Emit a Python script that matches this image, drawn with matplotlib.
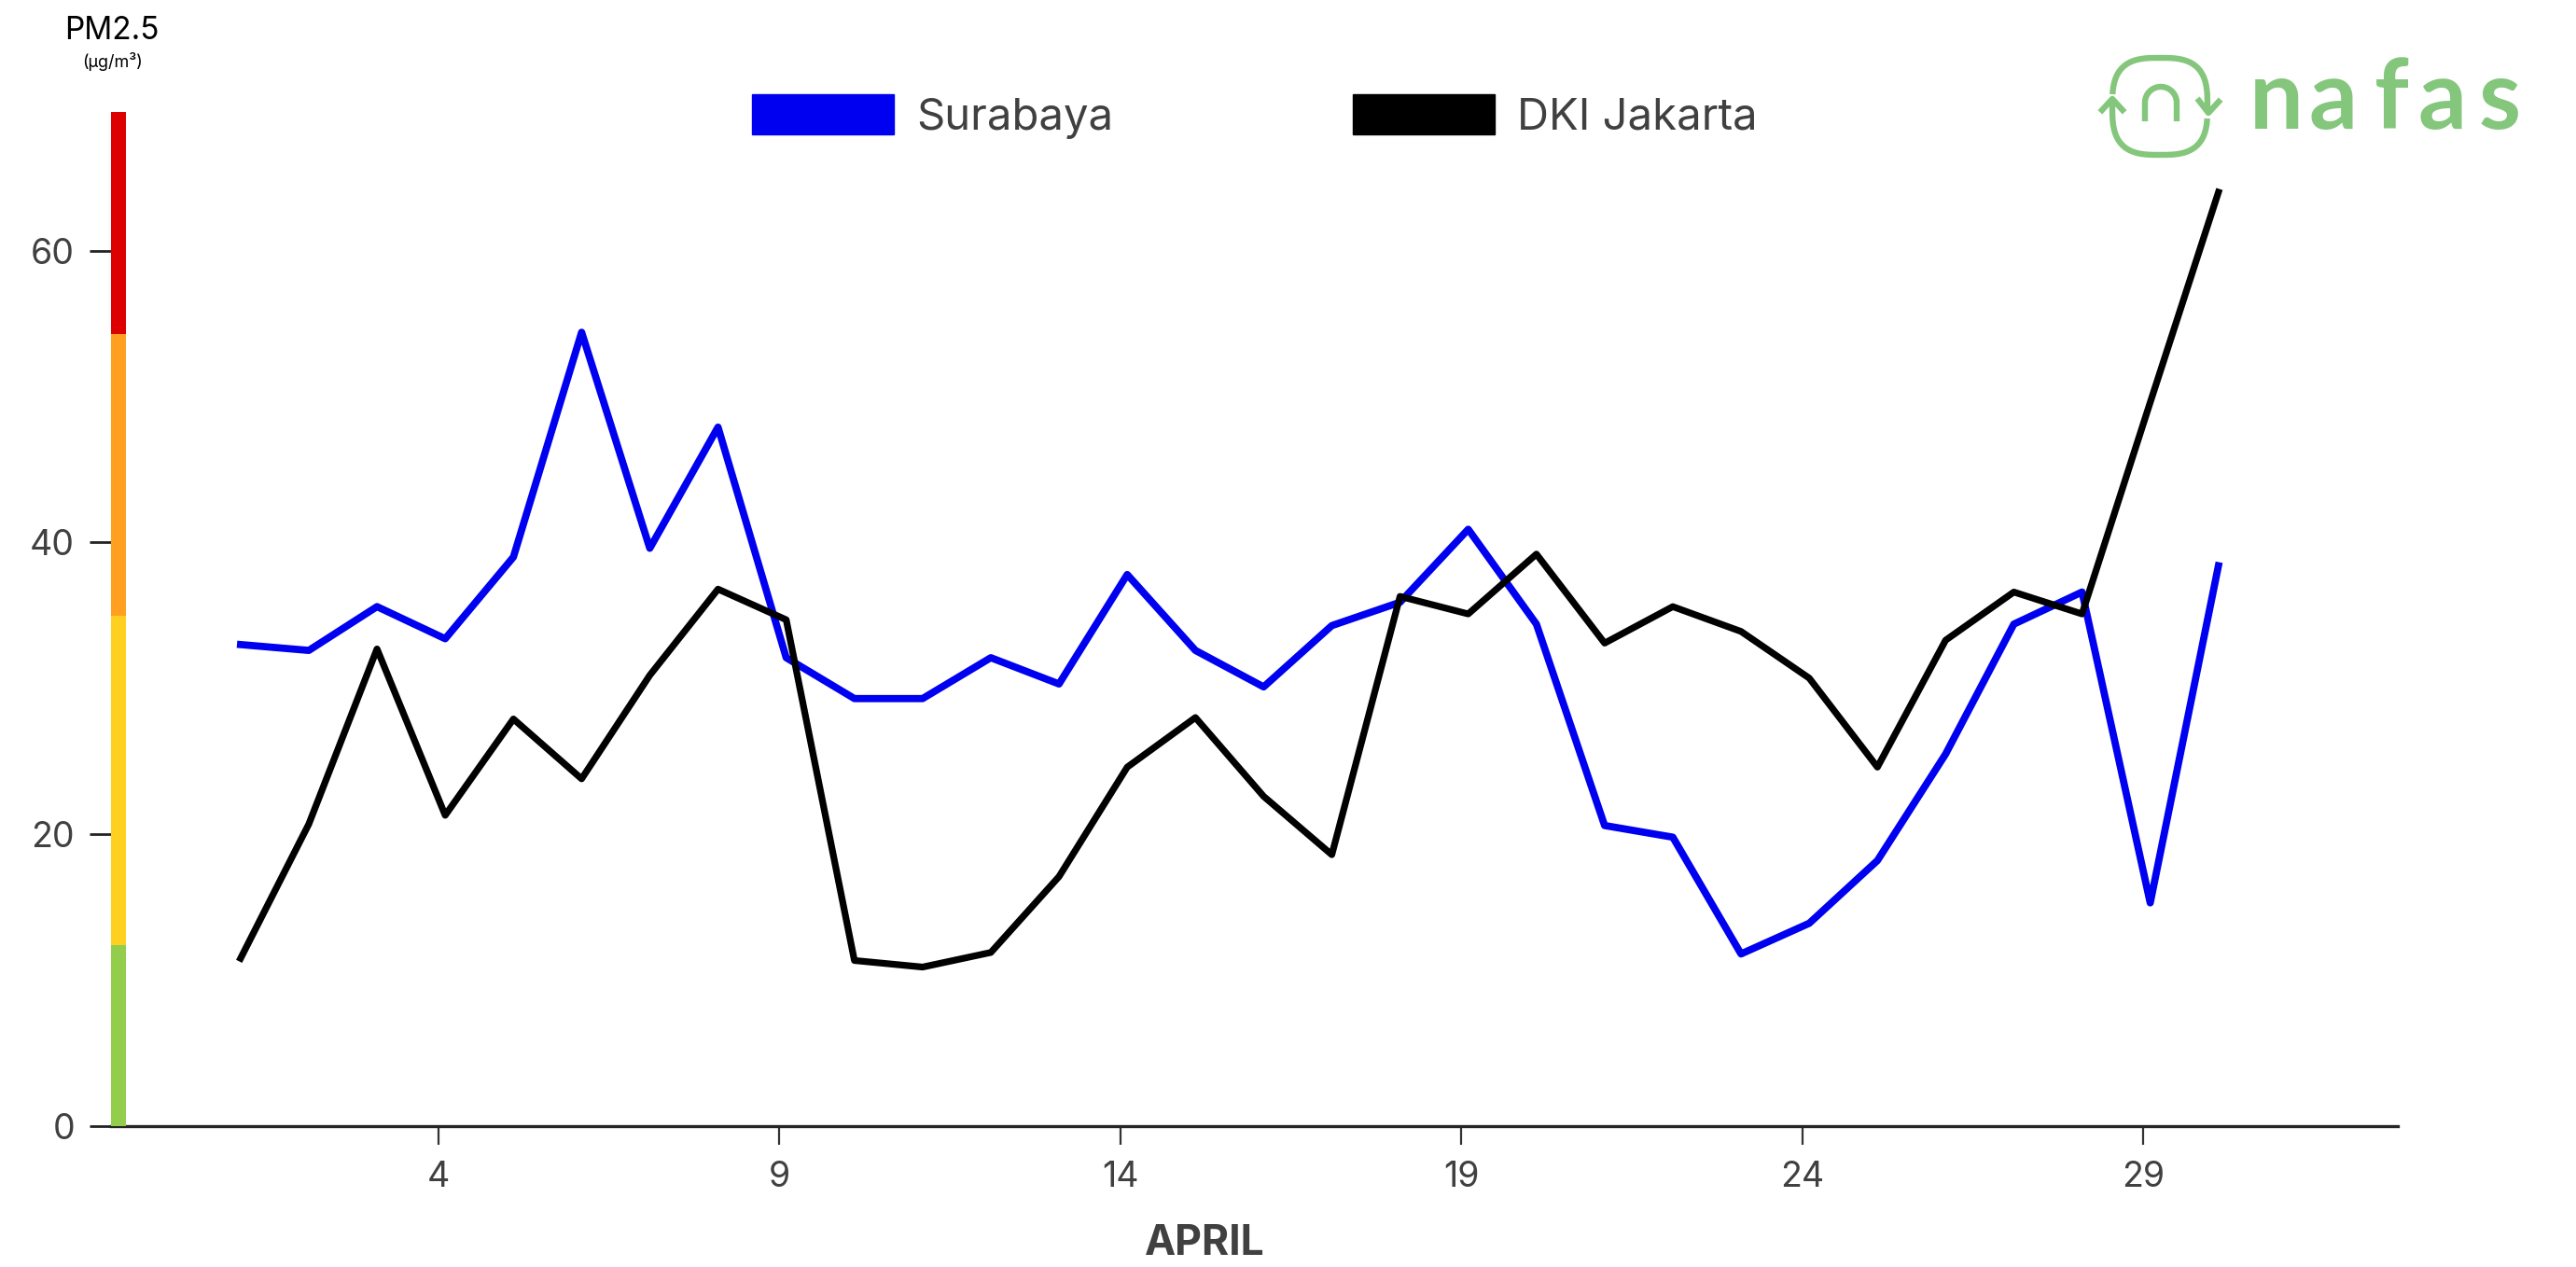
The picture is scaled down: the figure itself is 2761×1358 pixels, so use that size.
import numpy as np
import matplotlib.pyplot as plt
from matplotlib.patches import Rectangle, Patch
from matplotlib.transforms import blended_transform_factory

plt.rcParams['font.family'] = ['Inter', 'DejaVu Sans']

# data (April, daily PM2.5)
days = np.arange(1, 31)
surabaya = [33.0, 32.6, 35.6, 33.4, 39.0, 54.4, 39.6, 47.9, 32.1, 29.3,
            29.3, 32.1, 30.3, 37.8, 32.6, 30.1, 34.3, 35.9, 40.9, 34.4,
            20.6, 19.8, 11.8, 13.9, 18.2, 25.5, 34.4, 36.6, 15.3, 38.4]
jakarta = [11.5, 20.7, 32.7, 21.3, 27.9, 23.8, 30.9, 36.8, 34.7, 11.35,
           10.9, 11.9, 17.1, 24.6, 28.0, 22.6, 18.6, 36.3, 35.1, 39.2,
           33.1, 35.6, 33.9, 30.7, 24.6, 33.3, 36.6, 35.1, 49.6, 64.0]
tick_days = [4, 9, 14, 19, 24, 29]
yticks = [0, 20, 40, 60]
band_edges = [0, 12.4, 35.0, 54.3, 69.5]
band_colors = ['#92cd4c', '#ffd020', '#ffa020', '#dd0000']

blue = '#0000f0'
grey = '#404040'
green = '#84c77c'

W, H = 2761, 1358
fig = plt.figure(figsize=(W / 100, H / 100), dpi=100)
ax = fig.add_axes([119 / W, 1 - 1207 / H, (2570 - 119) / W, (1207 - 120) / H])

ax.plot(days, surabaya, color=blue, lw=5.6, zorder=3)
ax.plot(days, jakarta, color='black', lw=5.2, zorder=3)

ax.set_xlim(-0.9, 32.63)
ax.set_ylim(0, 69.5)

for s in ['top', 'right', 'left']:
    ax.spines[s].set_visible(False)
ax.spines['bottom'].set_linewidth(2.4)
ax.spines['bottom'].set_color('#262626')

# colour scale acting as the y axis
trans = blended_transform_factory(ax.transAxes, ax.transData)
for lo, hi, c in zip(band_edges[:-1], band_edges[1:], band_colors):
    ax.add_patch(Rectangle((0, lo), 16 / 2451, hi - lo, transform=trans,
                           color=c, lw=0, clip_on=False, zorder=4))

ax.set_yticks(yticks)
ax.tick_params(axis='y', length=16.5, width=2, color='#222222', pad=11.5,
               labelsize=27, labelcolor=grey)
ax.set_xticks([d - 0.1 for d in tick_days], labels=[str(d) for d in tick_days])
ax.tick_params(axis='x', length=14.4, width=1.6, color='#333333', pad=12,
               labelsize=27, labelcolor=grey)

fig.text(1291 / W, 1 - 1333 / H, 'APRIL', fontsize=32, fontweight='bold',
         color=grey, ha='center', va='center')
fig.text(120 / W, 1 - 32.5 / H, 'PM2.5', fontsize=24, color='black',
         ha='center', va='center')
fig.text(120 / W, 1 - 66 / H, '(µg/m³)', fontsize=13, color='black',
         ha='center', va='center')

handles = [Patch(color=blue, label='Surabaya'),
           Patch(color='black', label='DKI Jakarta')]
fig.legend(handles=handles, loc='center', bbox_to_anchor=(1345 / W, 1 - 125 / H),
           ncol=2, frameon=False, fontsize=34, handlelength=3.22,
           handleheight=1.03, handletextpad=0.5, columnspacing=5.45,
           labelcolor=grey)

# nafas logo
lax = fig.add_axes([2240 / W, 1 - 180 / H, 520 / W, 140 / H])
lax.set_xlim(2240, 2760)
lax.set_ylim(180, 40)
lax.axis('off')


def squircle(t0, t1):
    t = np.linspace(t0, t1, 200)
    c, s = np.cos(t), np.sin(t)
    x = 2315 + 51 * np.sign(c) * np.abs(c) ** (2 / 3)
    y = 114 - 52 * np.sign(s) * np.abs(s) ** (2 / 3)
    return x, y


lw_logo = 4.6
for t0, t1 in [(-0.03, np.pi - 0.125), (np.pi - 0.06, 2 * np.pi - 0.125)]:
    x, y = squircle(t0, t1)
    lax.plot(x, y, color=green, lw=lw_logo, solid_capstyle='butt')
lax.plot([2357, 2367, 2378], [108, 121, 109], color=green, lw=lw_logo)
lax.plot([2253, 2264, 2275], [118, 106, 118], color=green, lw=lw_logo)
th = np.linspace(np.pi, 0, 60)
nx = np.concatenate([[2299], 2316 + 17 * np.cos(th), [2333]])
ny = np.concatenate([[130], 110 - 17 * np.sin(th), [130]])
lax.plot(nx, ny, color=green, lw=lw_logo, solid_capstyle='butt')
for ch, xc in zip('nafas', [2440, 2501, 2563, 2618, 2679]):
    lax.text(xc, 138, ch, ha='center', va='baseline', fontsize=74,
             fontweight='bold', color=green, family='Lato')

fig.savefig('out.png', dpi=100)
